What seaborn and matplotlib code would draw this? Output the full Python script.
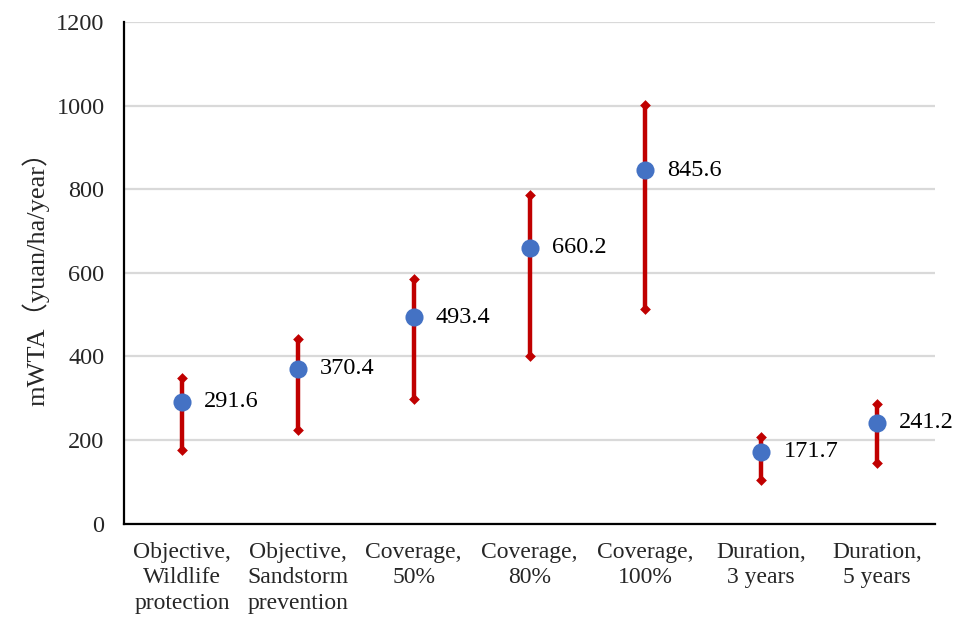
import numpy as np
import pandas as pd
import matplotlib
matplotlib.use("Agg")
import matplotlib.pyplot as plt
import seaborn as sns

categories = ["Objective,\nWildlife\nprotection", "Objective,\nSandstorm\nprevention",
              "Coverage,\n50%", "Coverage,\n80%", "Coverage,\n100%",
              "Duration,\n3 years", "Duration,\n5 years"]
mean_vals = [291.6, 370.4, 493.4, 660.2, 845.6, 171.7, 241.2]
lower_vals = [177, 223, 299, 401, 514, 104, 145]
upper_vals = [347, 441, 586, 785, 1002, 206, 287]
y_ticks = [0, 200, 400, 600, 800, 1000, 1200]

sns.set_theme(style="white")
plt.rcParams['font.family'] = ['Liberation Serif', 'Noto Sans CJK SC', 'DejaVu Sans']

df = pd.DataFrame({"pos": np.arange(len(categories)), "cat": categories,
                   "mean": mean_vals, "lo": lower_vals, "hi": upper_vals})

fig = plt.figure(figsize=(9.6, 6.21), dpi=100)
ax = fig.add_axes([124/960, 1 - 523.5/621, (935-124)/960, (523.5-22)/621])

red = "#C00000"
blue = "#4472C4"
ax.vlines(df["pos"], df["lo"], df["hi"], color=red, linewidth=3.2, zorder=2)
caps = pd.concat([df[["pos", "lo"]].rename(columns={"lo": "v"}),
                  df[["pos", "hi"]].rename(columns={"hi": "v"})])
sns.scatterplot(data=caps, x="pos", y="v", marker="D", s=30, color=red,
                edgecolor=red, linewidth=0, ax=ax, zorder=3)
sns.scatterplot(data=df, x="pos", y="mean", s=170, color=blue, edgecolor=blue,
                linewidth=0, ax=ax, zorder=4)

for p, m in zip(df["pos"], df["mean"]):
    ax.annotate(f"{m:.1f}", (p, m), xytext=(16, 0), textcoords="offset points",
                ha="left", va="center", fontsize=17.5, color="black", zorder=5)

ax.set_xlim(-0.5, len(categories) - 0.5)
ax.set_ylim(0, 1200)
ax.set_yticks(y_ticks)
ax.set_yticklabels([str(t) for t in y_ticks], fontsize=17.5)
ax.set_xticks(df["pos"])
ax.set_xticklabels(categories, fontsize=17, linespacing=1.3)
ax.tick_params(axis="both", length=0)
ax.tick_params(axis="y", pad=14)
ax.tick_params(axis="x", pad=13)
ax.yaxis.grid(True, color="#D9D9D9", linewidth=1.6)
ax.set_axisbelow(True)
for s in ["top", "right"]:
    ax.spines[s].set_visible(False)
for s in ["left", "bottom"]:
    ax.spines[s].set_color("black")
    ax.spines[s].set_linewidth(1.6)
ax.set_xlabel("")
ax.set_ylabel("mWTA（yuan/ha/year）", fontsize=19, labelpad=5)

fig.savefig("out.png", dpi=100, facecolor="white")
